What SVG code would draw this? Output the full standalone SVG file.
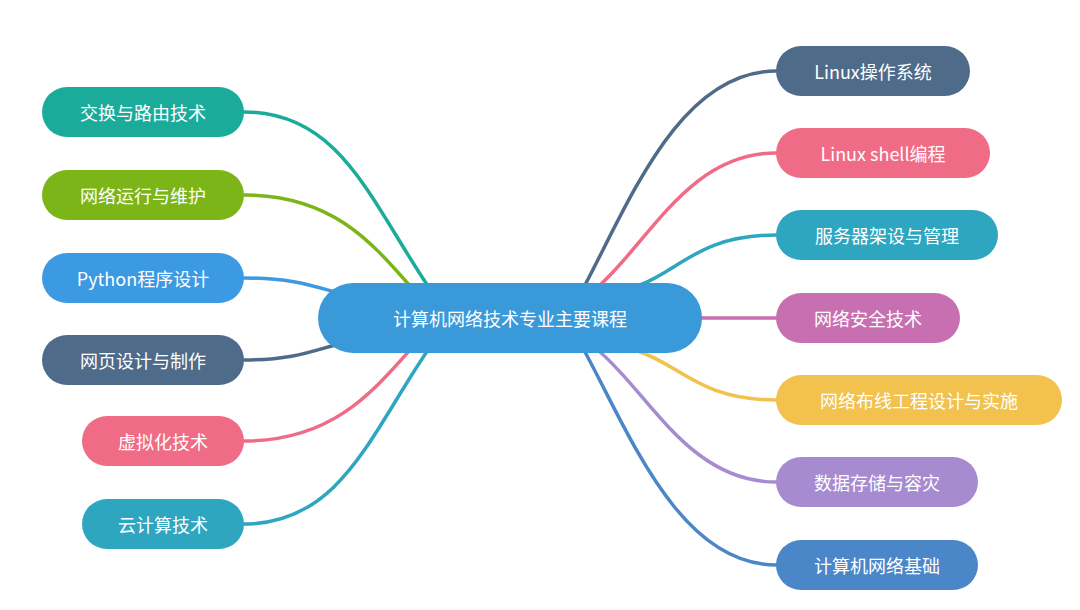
<svg xmlns="http://www.w3.org/2000/svg" width="1080" height="610" viewBox="0 0 1080 610">
<style>
text{font-family:"Noto Sans CJK SC","Noto Sans",sans-serif;fill:#fff;font-size:18px;dominant-baseline:central}
.c{fill:none;stroke-width:3.5;stroke-linecap:round}
</style>
<rect width="1080" height="610" fill="#fff"/>
<g id="connectors">
<path class="c" stroke="#1aab9b" d="M244,112 C340,112 370,200 428,286"/>
<path class="c" stroke="#7cb518" d="M244,195 C330,195 370,240 410,286"/>
<path class="c" stroke="#3b9ae1" d="M244,278 C290,278 310,285 335,292"/>
<path class="c" stroke="#4f6b8a" d="M244,360 C290,360 310,352 335,345"/>
<path class="c" stroke="#f06b85" d="M244,441 C330,441 370,395 410,350"/>
<path class="c" stroke="#2ea6c0" d="M244,524 C340,524 370,435 428,350"/>
<path class="c" stroke="#4f6b8a" d="M776,71 C680,71 630,200 585,285"/>
<path class="c" stroke="#f06b85" d="M776,153 C690,153 650,240 600,285"/>
<path class="c" stroke="#2ea6c0" d="M776,235 C700,235 680,270 640,285"/>
<path class="c" stroke="#c76fb0" d="M776,318 L700,318"/>
<path class="c" stroke="#f2c14e" d="M776,400 C700,400 680,365 640,352"/>
<path class="c" stroke="#a78bd0" d="M776,482 C690,482 650,395 600,352"/>
<path class="c" stroke="#4a86c8" d="M776,565 C680,565 630,435 585,352"/>
</g>
<g id="center"><rect x="318" y="283" width="384" height="70" rx="35" fill="#3a9ad9"/><text x="510" y="318" text-anchor="middle" font-size="22">计算机网络技术专业主要课程</text></g>
<g id="l1"><rect x="42" y="87" width="202" height="50" rx="25" fill="#1aab9b"/><text x="143" y="112" text-anchor="middle">交换与路由技术</text></g>
<g id="l2"><rect x="42" y="170" width="202" height="50" rx="25" fill="#7cb518"/><text x="143" y="195" text-anchor="middle">网络运行与维护</text></g>
<g id="l3"><rect x="42" y="253" width="202" height="50" rx="25" fill="#3b9ae1"/><text x="143" y="278" text-anchor="middle">Python程序设计</text></g>
<g id="l4"><rect x="42" y="335" width="202" height="50" rx="25" fill="#4f6b8a"/><text x="143" y="360" text-anchor="middle">网页设计与制作</text></g>
<g id="l5"><rect x="82" y="416" width="162" height="50" rx="25" fill="#f06b85"/><text x="163" y="441" text-anchor="middle">虚拟化技术</text></g>
<g id="l6"><rect x="82" y="499" width="162" height="50" rx="25" fill="#2ea6c0"/><text x="163" y="524" text-anchor="middle">云计算技术</text></g>
<g id="r1"><rect x="776" y="46" width="194" height="50" rx="25" fill="#4f6b8a"/><text x="873" y="71" text-anchor="middle">Linux操作系统</text></g>
<g id="r2"><rect x="776" y="128" width="214" height="50" rx="25" fill="#f06b85"/><text x="883" y="153" text-anchor="middle">Linux shell编程</text></g>
<g id="r3"><rect x="776" y="210" width="222" height="50" rx="25" fill="#2ea6c0"/><text x="887" y="235" text-anchor="middle">服务器架设与管理</text></g>
<g id="r4"><rect x="776" y="293" width="184" height="50" rx="25" fill="#c76fb0"/><text x="868" y="318" text-anchor="middle">网络安全技术</text></g>
<g id="r5"><rect x="776" y="375" width="286" height="50" rx="25" fill="#f2c14e"/><text x="919" y="400" text-anchor="middle">网络布线工程设计与实施</text></g>
<g id="r6"><rect x="776" y="457" width="202" height="50" rx="25" fill="#a78bd0"/><text x="877" y="482" text-anchor="middle">数据存储与容灾</text></g>
<g id="r7"><rect x="776" y="540" width="202" height="50" rx="25" fill="#4a86c8"/><text x="877" y="565" text-anchor="middle">计算机网络基础</text></g>
</svg>
